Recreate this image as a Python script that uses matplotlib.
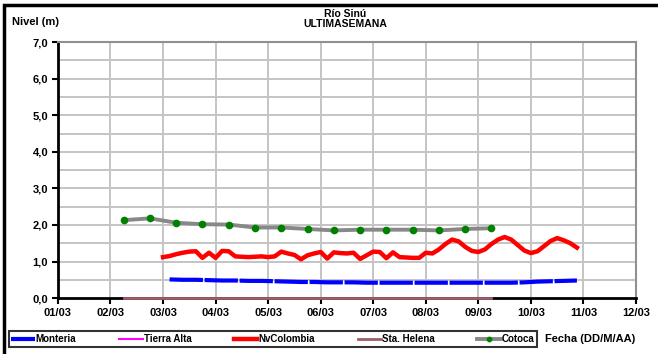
import numpy as np
import matplotlib.pyplot as plt
from matplotlib.patches import Rectangle

plt.rcParams['font.family'] = ['Liberation Sans', 'DejaVu Sans']
plt.rcParams['font.weight'] = 'bold'

# Data (x in days after 01/03)
xtick_labels = ["01/03", "02/03", "03/03", "04/03", "05/03", "06/03",
                "07/03", "08/03", "09/03", "10/03", "11/03", "12/03"]
ytick_labels = ["0,0", "1,0", "2,0", "3,0", "4,0", "5,0", "6,0", "7,0"]

cotoca_days = [1.25, 1.75, 2.25, 2.75, 3.25, 3.75, 4.25, 4.75,
               5.25, 5.75, 6.25, 6.75, 7.25, 7.75, 8.25]
cotoca_vals = [2.13, 2.18, 2.06, 2.02, 2.01, 1.93, 1.93, 1.89,
               1.85, 1.87, 1.87, 1.87, 1.85, 1.89, 1.91]

helena_days = [1.25, 2.25, 3.25, 4.25, 5.25, 6.25, 7.25, 8.25]
helena_vals = [0.0, 0.0, 0.0, 0.0, 0.0, 0.0, 0.0, 0.0]

tierra_days = []
tierra_vals = []

nvcol_days = list(np.arange(2.0, 9.876, 0.125))
nvcol_vals = [1.12, 1.15, 1.20, 1.24, 1.27, 1.28, 1.10, 1.24,
              1.10, 1.29, 1.28, 1.14, 1.13, 1.12, 1.13, 1.14,
              1.12, 1.14, 1.27, 1.22, 1.18, 1.06, 1.17, 1.22,
              1.26, 1.08, 1.25, 1.23, 1.22, 1.24, 1.07, 1.17,
              1.27, 1.26, 1.09, 1.25, 1.12, 1.11, 1.10, 1.10,
              1.24, 1.22, 1.33, 1.48, 1.60, 1.55, 1.40, 1.29,
              1.26, 1.33, 1.48, 1.60, 1.67, 1.60, 1.45, 1.30,
              1.23, 1.28, 1.42, 1.56, 1.64, 1.58, 1.50, 1.38]

monteria_days = list(np.arange(2.125, 9.876, 0.25))
monteria_vals = [0.51, 0.50, 0.50, 0.49, 0.48, 0.48, 0.47, 0.47,
                 0.46, 0.45, 0.44, 0.44, 0.43, 0.43, 0.43, 0.42,
                 0.42, 0.42, 0.42, 0.42, 0.42, 0.42, 0.42, 0.42,
                 0.42, 0.42, 0.42, 0.43, 0.45, 0.46, 0.47, 0.48]

fig = plt.figure(figsize=(6.58, 3.54), dpi=100)
ax = fig.add_axes([0.088, 0.158, 0.8786, 0.723])

# Grid
for v in np.arange(0.5, 7.01, 0.5):
    ax.axhline(v, color='#c4c4c4', lw=1.4, zorder=0)
for d in range(1, 12):
    ax.axvline(d, color='#c4c4c4', lw=1.4, zorder=0)

ax.plot(monteria_days, monteria_vals, color='#0000ff', lw=3,
        dashes=(8, 0.4), label='Monteria', zorder=3)
ax.plot(tierra_days, tierra_vals, color='#ff00ff', lw=1.5, label='Tierra Alta')
ax.plot(nvcol_days, nvcol_vals, color='#ff0000', lw=3.2, label='NvColombia', zorder=3)
ax.plot(helena_days, helena_vals, color='#9c5f68', lw=2, label='Sta. Helena',
        zorder=4, clip_on=False)
ax.plot(cotoca_days, cotoca_vals, color='#888888', lw=2.8, marker='o',
        markersize=4.5, markerfacecolor='#008000', markeredgecolor='#008000',
        label='Cotoca', zorder=3)

ax.set_xlim(0, 11)
ax.set_ylim(0, 7)
ax.set_xticks(range(12))
ax.set_xticklabels(xtick_labels, fontsize=8, fontweight='bold')
ax.set_yticks(range(8))
ax.set_yticklabels(ytick_labels, fontsize=8, fontweight='bold')
ax.tick_params(direction='out', length=4, width=1.5, color='black', pad=3)

ax.spines['left'].set_linewidth(2)
ax.spines['bottom'].set_linewidth(2)
ax.spines['top'].set_color('#909090')
ax.spines['right'].set_color('#909090')
ax.spines['top'].set_linewidth(1.5)
ax.spines['right'].set_linewidth(1.5)

fig.text(12/658, 1 - 22/354, "Nivel (m)", fontsize=8, fontweight='bold',
         ha='left', va='center')
fig.text(345/658, 1 - 19/354, "Río Sinú\nULTIMASEMANA", fontsize=7.5,
         fontweight='bold', ha='center', va='center', linespacing=0.9)
fig.text(545/658, 1 - 339/354, "Fecha (DD/M/AA)", fontsize=8,
         fontweight='bold', ha='left', va='center')

leg = fig.legend(loc='center', bbox_to_anchor=(273/658, 1 - 339/354), ncol=5,
                 frameon=True, fancybox=False, edgecolor='black',
                 handlelength=2.4, handletextpad=0.1, columnspacing=4.4,
                 borderpad=0.3, markerscale=0.7, prop={'weight': 'bold', 'size': 7})
leg.get_frame().set_linewidth(1.5)

fig.patches.append(Rectangle((4/658, -0.01), 1.0, 1 - 5/354 + 0.01,
                             transform=fig.transFigure, fill=False,
                             edgecolor='black', lw=2.5))

fig.savefig("out.png", dpi=100)
